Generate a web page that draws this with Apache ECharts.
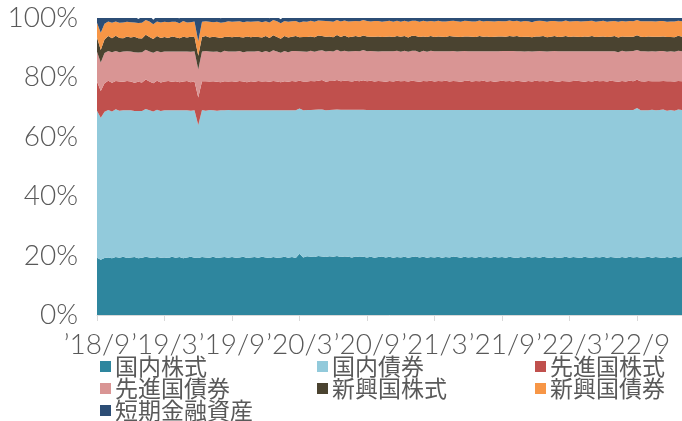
<!DOCTYPE html>
<html>
<head>
<meta charset="utf-8">
<script src="https://cdn.jsdelivr.net/npm/echarts@6/dist/echarts.min.js"></script>
<style>html,body{margin:0;padding:0;background:#fff}#c{width:682px;height:421px}</style>
</head>
<body>
<div id="c"></div>
<script>
// categories: three observations per month, 2018-09-01 .. 2023-01-01
const categories = [];
for (let y = 2018, m = 9; ; ) {
  if (y === 2023) { categories.push('2023-01-01'); break; }
  for (const d of [1, 11, 21]) {
    categories.push(y + '-' + String(m).padStart(2, '0') + '-' + String(d).padStart(2, '0'));
  }
  m++; if (m > 12) { m = 1; y++; }
}
const tickLabels = ["’18/9","’19/3","’19/9","’20/3","’20/9","’21/3","’21/9","’22/3","’22/9"];
const seriesNames = ["国内株式","国内債券","先進国株式","先進国債券","新興国株式","新興国債券","短期金融資産"];

const domesticEquity = [
19.3,18.6,19.2,19.4,19.1,19.5,19.3,19.6,19.2,19.4,19.5,19.1,19.3,19.6,19.4,19.2,19.5,19.3,
19.4,19.2,19.6,19.3,19.5,19.1,19.4,19.6,19.3,19.2,19.5,19.4,19.3,19.6,19.2,19.4,19.5,19.3,
19.5,19.3,19.4,19.6,19.2,19.4,19.5,19.3,19.6,19.4,19.2,19.5,19.3,19.4,19.6,19.3,19.5,19.2,
20.6,19.4,19.8,19.6,19.5,19.9,19.7,19.5,19.8,19.6,19.9,19.5,19.7,19.6,19.4,19.7,19.5,19.6,
19.4,19.6,19.3,19.5,19.7,19.4,19.6,19.3,19.5,19.4,19.6,19.3,19.5,19.7,19.4,19.6,19.3,19.5,
19.4,19.6,19.3,19.5,19.4,19.7,19.5,19.3,19.6,19.4,19.5,19.3,19.6,19.4,19.5,19.3,19.6,19.4,
19.5,19.3,19.6,19.4,19.2,19.5,19.3,19.6,19.4,19.5,19.3,19.6,19.4,19.2,19.5,19.3,19.4,19.6,
19.3,19.5,19.4,19.2,19.6,19.4,19.3,19.5,19.4,19.6,19.3,19.5,19.4,19.2,19.5,19.3,19.6,19.4,
19.5,19.3,19.4,19.6,19.3,19.5,19.4,19.2,19.5,19.3,19.6,19.4,19.5];
const domesticBond = [
49.5,47.8,49.2,49.6,49.4,49.8,49.5,49.3,49.7,49.5,49.2,49.6,49.4,49.8,49.5,49.3,49.6,49.4,
49.5,49.7,49.3,49.6,49.4,49.8,49.5,49.2,49.6,44.8,49.5,49.4,49.7,49.3,49.6,49.5,49.4,49.7,
49.4,49.6,49.5,49.3,49.7,49.5,49.4,49.6,49.3,49.5,49.7,49.4,49.6,49.5,49.3,49.6,49.4,49.7,
48.9,49.5,49.2,49.4,49.6,49.3,49.5,49.4,49.2,49.5,49.3,49.6,49.4,49.5,49.7,49.4,49.6,49.5,
49.6,49.4,49.7,49.5,49.3,49.6,49.4,49.7,49.5,49.6,49.4,49.7,49.5,49.3,49.6,49.4,49.7,49.5,
49.6,49.4,49.7,49.5,49.6,49.3,49.5,49.7,49.4,49.6,49.5,49.7,49.4,49.6,49.5,49.7,49.4,49.6,
49.5,49.7,49.4,49.6,49.8,49.5,49.7,49.4,49.6,49.5,49.7,49.4,49.6,49.8,49.5,49.7,49.6,49.4,
49.7,49.5,49.6,49.8,49.4,49.6,49.7,49.5,49.6,49.4,49.7,49.5,49.6,49.8,49.5,49.7,49.4,49.6,
50.2,49.6,49.5,49.3,49.8,49.4,49.6,50.0,49.3,49.7,49.2,49.8,49.5];
const foreignEquity = [
9.8,9.0,9.6,9.9,9.7,9.5,9.8,9.6,9.9,9.7,9.5,9.8,9.6,9.9,9.7,9.5,9.8,9.6,
9.7,9.9,9.6,9.8,9.5,9.7,9.9,9.6,9.8,9.2,9.7,9.9,9.6,9.8,9.7,9.5,9.8,9.6,
9.8,9.6,9.9,9.7,9.5,9.8,9.6,9.9,9.7,9.8,9.6,9.9,9.7,9.5,9.8,9.6,9.9,9.7,
9.4,9.7,9.6,9.8,9.6,9.7,9.9,9.6,9.8,9.7,9.9,9.6,9.8,9.7,9.5,9.8,9.6,9.9,
9.7,9.9,9.6,9.8,9.7,9.5,9.8,9.6,9.9,9.7,9.8,9.6,9.9,9.7,9.5,9.8,9.7,9.9,
9.6,9.8,9.7,9.9,9.6,9.8,9.7,9.5,9.8,9.9,9.6,9.8,9.7,9.9,9.6,9.8,9.5,9.7,
9.9,9.7,9.8,9.6,9.9,9.7,9.5,9.8,9.6,9.9,9.7,9.8,9.6,9.9,9.7,9.5,9.8,9.7,
9.6,9.8,9.9,9.7,9.5,9.8,9.6,9.9,9.7,9.8,9.6,9.9,9.7,9.5,9.8,9.6,9.9,9.7,
9.5,9.8,9.7,9.9,9.6,9.8,9.7,9.6,9.9,9.7,9.8,9.6,9.7];
const foreignBond = [
10.0,9.6,10.2,10.0,10.3,10.1,9.9,10.2,10.0,10.1,10.3,9.9,10.2,10.0,10.1,10.3,10.0,10.2,
10.1,9.9,10.2,10.0,10.3,10.1,9.9,10.2,10.1,9.5,10.0,10.2,10.1,9.9,10.2,10.0,10.3,10.1,
10.0,10.2,10.1,9.9,10.3,10.0,10.2,10.1,9.9,10.2,10.0,10.3,10.1,9.9,10.2,10.0,10.1,10.3,
9.9,10.1,10.0,10.2,9.9,10.1,10.0,10.2,10.1,9.9,10.2,10.0,10.1,9.9,10.2,10.0,10.1,10.2,
10.1,10.0,10.2,9.9,10.1,10.3,10.0,10.2,10.1,9.9,10.2,10.0,10.1,10.3,10.0,10.2,9.9,10.1,
10.2,10.0,10.1,9.9,10.2,10.1,10.0,10.3,10.1,9.9,10.2,10.0,10.1,9.9,10.2,10.0,10.3,10.1,
10.0,10.2,10.1,10.3,9.9,10.1,10.2,10.0,10.1,9.9,10.2,10.0,10.1,9.9,10.2,10.3,10.0,10.1,
10.2,10.0,9.9,10.1,10.3,10.0,10.2,9.9,10.1,10.0,10.2,9.9,10.1,10.0,10.2,10.1,9.9,10.2,
10.0,10.1,10.2,9.9,10.1,10.0,10.2,10.1,9.9,10.1,10.0,10.2,10.1];
const emergingEquity = [
4.8,4.2,4.6,5.0,4.7,5.1,4.8,4.5,5.0,4.7,5.2,4.8,4.6,5.1,4.9,4.6,5.0,4.8,
4.9,4.6,5.1,4.8,4.5,5.0,4.7,5.1,4.8,4.6,4.9,5.0,4.7,5.1,4.8,4.9,4.6,5.0,
4.8,5.0,4.7,4.9,5.1,4.8,5.0,4.7,4.9,5.0,4.8,5.1,4.9,4.7,5.0,4.9,4.8,5.0,
4.7,4.9,5.0,4.8,4.9,5.1,4.8,5.0,4.9,4.8,5.0,4.9,5.1,4.8,4.9,5.0,4.8,4.9,
5.0,4.8,4.9,5.1,4.8,4.9,5.0,4.8,4.9,5.1,4.9,4.8,5.0,4.9,5.1,4.8,5.0,4.9,
4.8,5.0,4.9,4.8,5.1,4.9,5.0,4.8,4.9,5.0,4.9,4.8,5.1,4.9,5.0,4.8,4.9,5.0,
4.9,4.8,5.0,4.9,5.1,4.8,5.0,4.9,4.8,5.0,4.9,5.1,4.8,4.9,5.0,4.8,4.9,5.1,
4.8,5.0,4.9,4.8,5.0,4.9,5.1,4.8,4.9,5.0,4.8,4.9,5.1,4.9,4.8,5.0,4.9,4.8,
5.0,4.9,4.8,5.1,4.9,5.0,4.8,4.9,5.0,4.8,4.9,5.0,4.9];
const emergingBond = [
5.0,5.8,5.3,4.9,5.2,4.8,5.1,5.3,4.9,5.2,4.8,5.1,5.3,4.9,5.2,5.0,4.9,5.2,
5.1,5.3,4.9,5.2,5.0,5.3,5.1,4.9,5.2,4.9,5.1,5.0,5.3,4.9,5.2,5.1,5.0,5.2,
5.2,5.1,5.3,5.2,5.0,5.2,5.1,5.3,5.2,5.0,5.2,5.1,5.3,5.2,5.1,5.3,5.2,5.1,
5.0,5.2,5.1,5.3,5.2,5.1,5.2,5.3,5.1,5.2,5.0,5.2,5.1,5.3,5.2,5.1,5.3,5.2,
5.2,5.1,5.3,5.2,5.1,5.2,5.3,5.1,5.2,5.0,5.2,5.3,5.1,5.2,5.1,5.3,5.2,5.1,
5.2,5.3,5.1,5.2,5.1,5.3,5.2,5.1,5.3,5.2,5.1,5.2,5.3,5.1,5.2,5.3,5.1,5.2,
5.1,5.2,5.3,5.1,5.2,5.1,5.3,5.2,5.1,5.2,5.3,5.1,5.2,5.3,5.1,5.2,5.1,5.3,
5.2,5.1,5.3,5.2,5.1,5.3,5.2,5.1,5.2,5.3,5.1,5.2,5.1,5.3,5.2,5.1,5.3,5.2,
5.1,5.2,5.3,5.1,5.2,5.1,5.3,5.2,5.1,5.2,5.3,5.1,5.2];
const shortTerm = [
1.6,5.0,1.9,1.4,1.8,1.5,2.1,1.6,1.8,1.5,2.0,1.4,1.9,1.6,2.0,1.5,1.8,1.6,
1.6,1.5,1.8,1.4,1.7,1.5,1.8,1.6,1.4,7.8,1.6,1.5,1.7,1.4,1.6,1.5,1.7,1.4,
1.5,1.4,1.6,1.5,1.4,1.6,1.5,1.4,1.6,1.5,1.4,1.6,1.5,1.4,1.6,1.5,1.4,1.6,
1.5,1.4,1.6,1.5,1.4,1.6,1.5,1.4,1.6,1.5,1.4,1.6,1.5,1.4,1.6,1.5,1.4,1.6,
1.5,1.4,1.6,1.5,1.4,1.6,1.5,1.4,1.6,1.5,1.4,1.6,1.5,1.4,1.6,1.5,1.4,1.6,
1.5,1.4,1.6,1.5,1.4,1.6,1.5,1.4,1.6,1.5,1.4,1.6,1.5,1.4,1.6,1.5,1.4,1.6,
1.5,1.4,1.6,1.5,1.4,1.6,1.5,1.4,1.6,1.5,1.4,1.6,1.5,1.4,1.6,1.5,1.4,1.6,
1.5,1.4,1.6,1.5,1.4,1.6,1.5,1.4,1.6,1.5,1.4,1.6,1.5,1.4,1.6,1.5,1.4,1.6,
1.5,1.4,1.6,1.5,1.4,1.6,1.5,1.4,1.6,1.5,1.4,1.6,1.5];

const seriesData = [domesticEquity, domesticBond, foreignEquity, foreignBond, emergingEquity, emergingBond, shortTerm];
const colors = ['#2E869E','#92CADB','#C0504D','#D99594','#4A4330','#F79646','#2C4D75'];
const TICK_STEP = 18;
const textColor = '#595959';

// legend grid: 3 columns x 3 rows (row-major order of series)
const legendCols = [100, 317, 535];
const legendRows = [355, 377, 399];
const legends = seriesNames.map((name, k) => ({
  orient: 'horizontal', left: legendCols[k % 3], top: legendRows[Math.floor(k / 3)],
  itemWidth: 11, itemHeight: 11, itemGap: 0, icon: 'rect', selectedMode: false, padding: 0,
  data: [name],
  textStyle: {fontFamily: '"Noto Sans CJK JP", sans-serif', fontSize: 23, lineHeight: 22, color: textColor, padding: [0, 0, 0, -1]}
}));

const chart = echarts.init(document.getElementById('c'), null, {renderer: 'canvas'});
chart.setOption({
  animation: false,
  color: colors,
  grid: {left: 97, right: 0, top: 18, bottom: 106, containLabel: false},
  legend: legends,
  xAxis: {
    type: 'category', data: categories, boundaryGap: false,
    axisLine: {lineStyle: {color: '#D9D9D9', width: 1}},
    axisTick: {show: true, length: 6, lineStyle: {color: '#D9D9D9'}, interval: (i) => i % TICK_STEP === 0},
    axisLabel: {
      interval: (i) => i % TICK_STEP === 0,
      formatter: (v, i) => tickLabels[Math.round(i / TICK_STEP)] || '',
      fontFamily: 'Lato', fontWeight: 300, fontSize: 28, color: textColor, margin: 16
    },
    splitLine: {show: false}
  },
  yAxis: {
    type: 'value', min: 0, max: 100, interval: 20,
    axisLine: {show: false}, axisTick: {show: false}, splitLine: {show: false},
    axisLabel: {formatter: '{value}%', fontFamily: 'Lato', fontWeight: 300, fontSize: 28, color: textColor, margin: 19}
  },
  series: seriesNames.map((name, k) => ({
    name, type: 'line', stack: 'total', data: seriesData[k],
    symbol: 'none', showSymbol: false, smooth: false,
    lineStyle: {width: 0}, areaStyle: {opacity: 1, color: colors[k]},
    itemStyle: {color: colors[k]}, emphasis: {disabled: true}, clip: true
  }))
});
</script>
</body>
</html>
